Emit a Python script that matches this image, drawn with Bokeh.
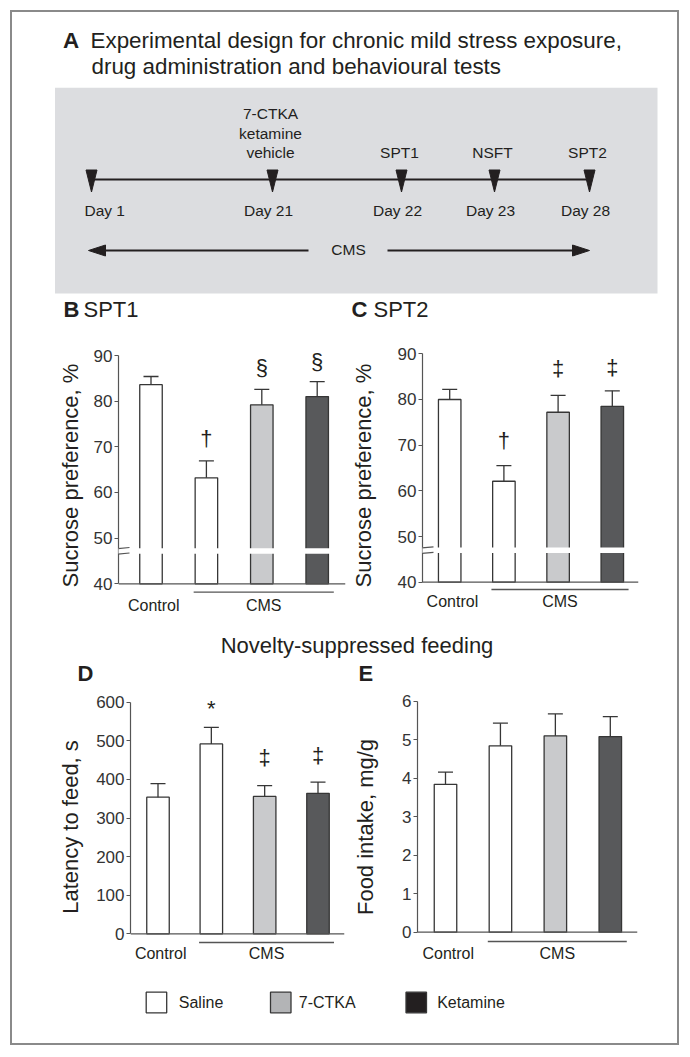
import math
from bokeh.plotting import figure
from bokeh.layouts import column, row
from bokeh.models import Range1d, FixedTicker, Arrow
from bokeh.core.properties import value
from bokeh.embed import file_html
from bokeh.resources import INLINE

# ------------------------------------------------------------------ data
categories = ["Control", "CMS", "CMS", "CMS"]
treatments = ["Saline", "Saline", "7-CTKA", "Ketamine"]
legend_labels = ["Saline", "7-CTKA", "Ketamine"]

spt1_mean = [83.6, 63.2, 79.2, 81.0]
spt1_sem = [1.8, 3.7, 3.4, 3.3]
spt1_sig = ["", "\u2020", "\u00a7", "\u00a7"]

spt2_mean = [80.0, 62.1, 77.2, 78.5]
spt2_sem = [2.2, 3.4, 3.7, 3.4]
spt2_sig = ["", "\u2020", "\u2021", "\u2021"]

latency_mean = [354, 492, 356, 364]
latency_sem = [35, 43, 28, 29]
latency_sig = ["", "*", "\u2021", "\u2021"]

intake_mean = [3.84, 4.84, 5.10, 5.08]
intake_sem = [0.32, 0.59, 0.57, 0.52]
intake_sig = ["", "", "", ""]

spt_ticks = [40, 50, 60, 70, 80, 90]
latency_ticks = [0, 100, 200, 300, 400, 500, 600]
intake_ticks = [0, 1, 2, 3, 4, 5, 6]

days = [1, 21, 22, 23, 28]
day_events = [[], ["7-CTKA", "ketamine", "vehicle"], ["SPT1"], ["NSFT"], ["SPT2"]]

# ------------------------------------------------------------------ style
FONT = "Liberation Sans"
INK = "#231f20"
AXIS = "#555555"
EDGE = "#363636"
BAR_FILLS = {"Saline": "#ffffff", "7-CTKA": "#c9cacc", "Ketamine": "#58595b"}
LEGEND_FILLS = {"Saline": "#ffffff", "7-CTKA": "#b3b4b6", "Ketamine": "#231f20"}
BOX_GRAY = "#dcdde0"

# page-pixel layout positions of the schematic timeline
day_px = [91, 272, 401, 494, 589]


def blank_fig(x0, y0, w, h):
    p = figure(width=w, height=h, x_range=Range1d(x0, x0 + w), y_range=Range1d(y0 + h, y0),
               x_axis_location=None, y_axis_location=None, toolbar_location=None,
               output_backend="svg", min_border=0, outline_line_color=None)
    p.grid.visible = False
    return p


def txt(p, x, y, s, size="16px", align="center", style="normal", baseline="middle"):
    p.text(x=x, y=y, text=s, text_font=value(FONT), text_font_size=size,
           text_align=align, text_baseline=baseline, text_color=INK, text_font_style=style)


# ------------------------------------------------------------------ panel A
figA = blank_fig(12, 12, 665, 282)
figA.quad(left=[54.5], right=[657], top=[87.3], bottom=[293], fill_color=BOX_GRAY, line_color=None)
txt(figA, [62.5], [40], ["A"], size="22.4px", align="left", style="bold")
txt(figA, [90], [40], ["Experimental design for chronic mild stress exposure,"], size="22.4px", align="left")
txt(figA, [91], [66], ["drug administration and behavioural tests"], size="22.4px", align="left")

tl_y = 179
figA.segment(x0=[day_px[0]], y0=[tl_y], x1=[day_px[-1]], y1=[tl_y], line_width=2, line_color=INK)
figA.patches(xs=[[x - 5.5, x + 5.5, x] for x in day_px],
             ys=[[169.5, 169.5, 191.5] for _ in day_px], fill_color=INK, line_color=INK)
for i, d in enumerate(days):
    if i == 0:
        txt(figA, [day_px[i] - 7], [210], ["Day %d" % d], size="15.5px", align="left")
    else:
        txt(figA, [day_px[i] - 4], [210], ["Day %d" % d], size="15.5px")
    for k, s in enumerate(reversed(day_events[i])):
        txt(figA, [day_px[i] - 2], [152 - 19.5 * k], [s], size="15.5px")

cms_y = 250
figA.segment(x0=[100, 387], y0=[cms_y, cms_y], x1=[308, 578], y1=[cms_y, cms_y], line_width=2, line_color=INK)
figA.patches(xs=[[day_px[0] - 3, day_px[0] + 14, day_px[0] + 14], [day_px[-1], day_px[-1] - 17, day_px[-1] - 17]],
             ys=[[cms_y, cms_y - 5.5, cms_y + 5.5], [cms_y, cms_y - 5.5, cms_y + 5.5]],
             fill_color=INK, line_color=INK)
txt(figA, [348], [249], ["CMS"], size="15.5px")

# ------------------------------------------------------------------ header strip for B / C
figH = blank_fig(12, 294, 665, 36)
txt(figH, [63, 351], [309, 309], ["B", "C"], size="22px", align="left", style="bold")
txt(figH, [83, 373], [309, 309], ["SPT1", "SPT2"], size="22px", align="left")


# ------------------------------------------------------------------ bar panels
def lin(p0, v0, p1, v1):
    s = (p1 - p0) / (v1 - v0)
    return (lambda px: v0 + (px - p0) / s), s


def bar_panel(spec, means, sems, sigs, ticks, ylabel):
    fx0, fy0, fw, fh = spec["fig"]
    fl, fr, ft, fb = spec["frame"]
    X, sx = lin(*spec["xa"])
    Y, sy = lin(*spec["ya"])
    p = figure(width=fw, height=fh,
               x_range=Range1d(X(fl), X(fr)), y_range=Range1d(Y(fb), Y(ft)),
               x_axis_location=None, y_axis_location="left", toolbar_location=None,
               output_backend="svg", outline_line_color=None,
               min_border_left=fl - fx0, min_border_right=fx0 + fw - fr,
               min_border_top=ft - fy0, min_border_bottom=fy0 + fh - fb)
    p.grid.visible = False
    ax = p.yaxis[0]
    ax.ticker = FixedTicker(ticks=ticks)
    ax.bounds = (ticks[0], ticks[-1])
    ax.axis_line_color = AXIS
    ax.axis_line_width = 1.2
    ax.major_tick_line_color = AXIS
    ax.major_tick_line_width = 1.2
    ax.major_tick_out = 4
    ax.major_tick_in = 0
    ax.minor_tick_line_color = None
    ax.major_label_standoff = 2
    ax.major_label_text_font = FONT
    ax.major_label_text_font_size = "17px"
    ax.major_label_text_color = "#333333"
    ax.axis_label = ylabel
    ax.axis_label_text_font = FONT
    ax.axis_label_text_font_size = "22px"
    ax.axis_label_text_font_style = "normal"
    ax.axis_label_text_color = INK
    ax.axis_label_standoff = spec["label_standoff"]

    xs = [1, 2, 3, 4]
    base = ticks[0]
    bw = 22.5 / sx
    cap = 7.5 / sx
    p.vbar(x=xs, top=means, bottom=base, width=bw,
           fill_color=[BAR_FILLS[t] for t in treatments], line_color=EDGE, line_width=1.3)
    brk = spec.get("break")
    if brk:
        p.quad(left=[X(fl)], right=[X(fr)], bottom=[brk[0]], top=[brk[1]],
               fill_color="white", line_color=None)
    tops = [m + s for m, s in zip(means, sems)]
    p.segment(x0=xs, y0=means, x1=xs, y1=tops, line_color=EDGE, line_width=1.3)
    p.segment(x0=[x - cap for x in xs], y0=tops, x1=[x + cap for x in xs], y1=tops,
              line_color=EDGE, line_width=1.3)
    off = spec["sig_off"]
    txt(p, xs, [t + o / abs(sy) for t, o in zip(tops, off)], sigs, size="22px")

    # baseline (x axis line)
    p.segment(x0=[X(fl)], y0=[base], x1=[X(fr)], y1=[base], line_color=AXIS, line_width=1.2)
    # CMS bracket line and category labels
    ly = Y(spec["cms_line_px"])
    l0, l1 = 2 - 0.23, 4 + 0.3
    p.segment(x0=[l0], y0=[ly], x1=[l1], y1=[ly], line_color=AXIS, line_width=1.3)
    txt(p, [1.05, (l0 + l1) / 2], [Y(spec["cat_px"])] * 2, ["Control", "CMS"], size="16px")

    if brk:
        p.add_layout(Arrow(end=None, x_start=X(fl), y_start=brk[0], x_end=X(fl), y_end=brk[1],
                           line_color="white", line_width=3))
        for yb in brk:
            p.add_layout(Arrow(end=None, x_start=X(fl - 4), y_start=yb - 0.15, x_end=X(fl + 11),
                               y_end=yb + 0.15, line_color=AXIS, line_width=1.2))
    return p


specB = dict(fig=(12, 330, 334, 290), frame=(118, 345, 330, 620),
             xa=(150.5, 1, 316.7, 4), ya=(355.0, 90, 583.3, 40),
             sig_off=[0, 22, 22, 20], cms_line_px=591.7, cat_px=605, label_standoff=8,
             **{"break": (46.6, 47.8)})
specC = dict(fig=(346, 330, 331, 290), frame=(422, 638, 330, 620),
             xa=(449.2, 1, 611.8, 4), ya=(353.3, 90, 581.7, 40),
             sig_off=[0, 25, 27, 23], cms_line_px=589, cat_px=601, label_standoff=19,
             **{"break": (46.4, 47.6)})
specD = dict(fig=(12, 688, 334, 277), frame=(130, 344, 688, 965),
             xa=(157.5, 1, 317.5, 4), ya=(701.7, 600, 933.3, 0),
             sig_off=[0, 19, 28, 27], cms_line_px=942, cat_px=953, label_standoff=10)
specE = dict(fig=(346, 688, 331, 277), frame=(417, 637, 688, 965),
             xa=(445, 1, 609.8, 4), ya=(700.7, 6, 931.7, 0),
             sig_off=[0, 22, 22, 22], cms_line_px=941, cat_px=953, label_standoff=21)

figB = bar_panel(specB, spt1_mean, spt1_sem, spt1_sig, spt_ticks, "Sucrose preference, %")
figC = bar_panel(specC, spt2_mean, spt2_sem, spt2_sig, spt_ticks, "Sucrose preference, %")
figD = bar_panel(specD, latency_mean, latency_sem, latency_sig, latency_ticks, "Latency to feed, s")
figE = bar_panel(specE, intake_mean, intake_sem, intake_sig, intake_ticks, "Food intake, mg/g")

# ------------------------------------------------------------------ section title + D / E letters
figT = blank_fig(12, 620, 665, 68)
txt(figT, [356.5], [645], ["Novelty-suppressed feeding"], size="22px")
txt(figT, [77, 358], [673, 673], ["D", "E"], size="22px", align="left", style="bold")

# ------------------------------------------------------------------ legend
figL = blank_fig(12, 965, 665, 78)
leg_box_x = [145.7, 270, 405.5]
leg_txt_x = [178.3, 298.3, 436.7]
figL.quad(left=leg_box_x, right=[x + 20.5 for x in leg_box_x], top=[991.7] * 3, bottom=[1012.3] * 3,
          fill_color=[LEGEND_FILLS[t] for t in legend_labels], line_color=EDGE, line_width=1.3)
txt(figL, leg_txt_x, [1002] * 3, legend_labels, size="16px", align="left")

layout = column(figA, figH, row(figB, figC), figT, row(figD, figE), figL,
                margin=(10, 0, 0, 10), styles={"border": "2px solid #8a8a8a"})

open("out.html", "w").write(file_html(layout, INLINE))
